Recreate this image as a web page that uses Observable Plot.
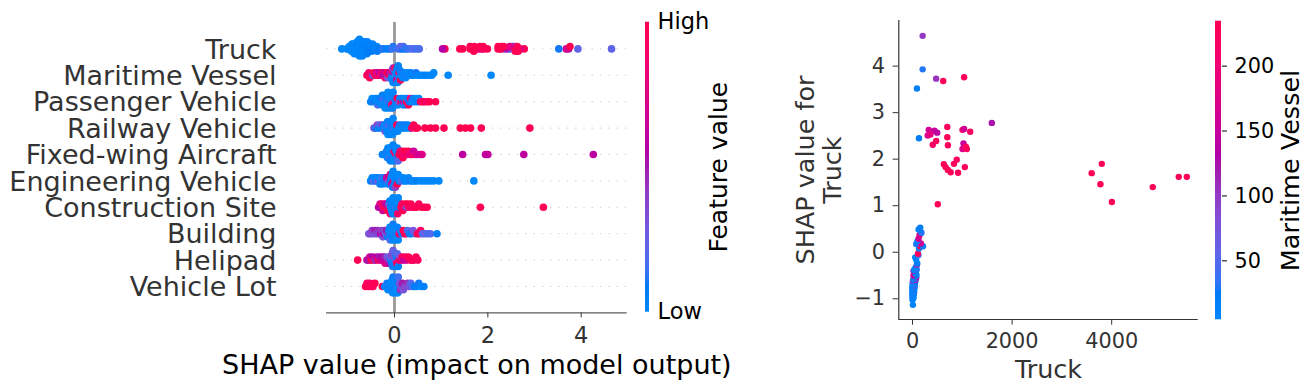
<!DOCTYPE html>
<html><head><meta charset="utf-8">
<script src="https://cdn.jsdelivr.net/npm/d3@7"></script>
<script src="https://cdn.jsdelivr.net/npm/@observablehq/plot@0.6"></script>
<style>
html,body{margin:0;padding:0;background:#fff;}
#chart{position:relative;width:1308px;height:392px;overflow:hidden;font-family:"DejaVu Sans";}
</style></head><body><div id="chart"></div>
<script>
// ---------------- DATA ----------------
const features = ["Truck","Maritime Vessel","Passenger Vehicle","Railway Vehicle","Fixed-wing Aircraft","Engineering Vehicle","Construction Site","Building","Helipad","Vehicle Lot"];
const xLabelLeft = "SHAP value (impact on model output)";
const colorbarLeftLabel = "Feature value";
const colorbarLeftTicks = ["Low","High"];
const xLabelRight = "Truck";
const yLabelRight = "SHAP value for\nTruck";
const colorbarRightLabel = "Maritime Vessel";

// dependence data: Truck value, SHAP value for Truck, Maritime Vessel value
const truckFeature = [204,204,475,617,1037,89,1593,130,326,441,496,305,360,407,475,699,699,711,1004,1037,1159,1024,1004,1091,1071,630,665,711,766,833,888,915,1051,3801,3598,3774,4004,4825,5346,5508,508,
 8,0,15,5,22,0,10,3,18,28,6,12,0,35,8,20,2,14,30,0,25,10,40,5,18,33,12,0,22,45,8,28,15,38,3,50,20,35,10,42,25,55,8,33,60,18,45,70,75,35,55,20,80,45,65,55,20,35,85,60,89,95,75,55,120,109,130,156,211,75,170,100,122,142,180,122,156];
const truckShap = [4.65,3.93,3.73,3.68,3.76,3.52,2.78,2.45,2.63,2.61,2.57,2.51,2.53,2.31,2.39,2.69,2.47,2.30,2.63,2.65,2.59,2.34,2.22,2.22,2.27,1.89,1.83,1.77,1.72,1.90,1.99,1.71,1.83,1.90,1.70,1.46,1.08,1.40,1.62,1.62,1.03,
 -1.13,-1.02,-0.99,-0.97,-0.96,-0.94,-0.92,-0.91,-0.90,-0.89,-0.88,-0.87,-0.86,-0.85,-0.84,-0.83,-0.82,-0.81,-0.80,-0.79,-0.78,-0.78,-0.77,-0.76,-0.76,-0.75,-0.75,-0.74,-0.73,-0.72,-0.72,-0.71,-0.70,-0.69,-0.68,-0.67,-0.66,-0.66,-0.65,-0.64,-0.63,-0.62,-0.61,-0.60,-0.59,-0.58,-0.57,-0.56,-0.54,-0.53,-0.51,-0.50,-0.49,-0.47,-0.46,-0.42,-0.40,-0.38,-0.37,-0.33,-0.27,-0.24,-0.16,-0.11,-0.06,-0.03,0.08,0.13,0.13,0.18,0.19,0.24,0.29,0.37,0.42,0.49,0.53];
const maritimeFeature = [100,30,105,225,225,15,125,20,165,150,140,175,190,215,220,225,230,225,225,160,220,150,175,228,225,230,225,228,232,225,220,228,225,230,230,230,228,230,228,232,232,
 10,8,12,20,6,15,9,30,5,14,11,25,7,18,10,40,6,22,9,12,35,8,16,60,11,7,28,9,14,20,6,95,12,30,10,18,8,45,13,22,7,15,110,9,130,12,35,8,120,18,14,160,10,140,11,25,115,12,30,14,110,20,9,16,40,225,22,225,18,28,160,15,165,170,30,12,20];

// summary rows 2..10: [SHAP value, normalised feature value]
const rowMaritime = [[-0.59,1],[-0.57,0.95],[-0.55,0.9],[-0.53,1],[-0.50,0.85],[-0.46,0.25],[-0.44,1],[-0.41,0.9],[-0.38,0.7],[-0.35,0.95],[-0.32,0.6],[-0.29,0.8],[-0.26,1],[-0.24,0.55],[-0.22,0.65],[-0.20,0.9],[-0.18,0.5],[-0.16,1],[-0.14,0.3],[-0.12,0.95],[-0.10,0.6],[-0.09,0.2],[-0.08,1],[-0.07,0.45],[-0.06,0.1],[-0.05,0.85],[-0.04,0.05],[-0.03,0.4],[-0.03,0],[-0.02,0.05],[-0.01,0.6],[-0.01,0],[0,0.15],[0.01,0.05],[0.01,0.9],[0.02,0],[0.03,0.3],[0.03,0],[0.04,0.05],[0.05,0],[0.05,0.7],[0.06,0.1],[0.07,0],[0.08,0.05],[0.09,0],[0.10,0.95],[0.11,0],[0.12,0.05],[0.13,1],[0.14,0],[0.16,0.1],[0.18,0],[0.20,0.05],[0.22,0],[0.24,0],[0.26,0.1],[0.29,0],[0.32,0],[0.35,0.05],[0.38,0],[0.42,0],[0.46,0.1],[0.50,0],[0.55,0],[0.61,0],[0.67,0.05],[0.74,0],[0.80,0],[0.84,0],[1.15,0],[2.07,0]];
const rowPassenger = [[-0.51,0.05],[-0.48,0],[-0.45,0.1],[-0.42,0],[-0.40,0.05],[-0.38,0],[-0.36,0.15],[-0.34,0],[-0.32,0.05],[-0.30,0],[-0.29,0.1],[-0.27,0],[-0.26,0.05],[-0.24,0],[-0.23,0.2],[-0.22,0],[-0.21,0.05],[-0.20,0],[-0.19,0],[-0.18,0.1],[-0.17,0],[-0.16,0.05],[-0.15,0],[-0.14,0],[-0.13,0.15],[-0.12,0],[-0.11,0.05],[-0.10,0],[-0.09,0],[-0.08,0.1],[-0.07,0],[-0.06,0.95],[-0.05,0],[-0.04,0.05],[-0.03,0],[-0.01,0.9],[0.0,0.1],[0.02,0],[0.04,0.05],[0.06,1],[0.08,0],[0.10,0.3],[0.12,0],[0.14,0.9],[0.16,0.05],[0.18,0],[0.20,0.6],[0.22,0],[0.24,0.1],[0.26,0.95],[0.28,0],[0.30,1],[0.32,0.05],[0.34,0.8],[0.37,0],[0.40,0.1],[0.43,0],[0.46,0],[0.49,0.05],[0.52,0],[0.56,1],[0.60,0.95],[0.65,1],[0.70,0.9],[0.75,1],[0.88,1]];
const rowRailway = [[-0.44,0.3],[-0.40,0.1],[-0.37,0.35],[-0.34,0.05],[-0.31,0.2],[-0.28,0],[-0.26,0.4],[-0.24,0.05],[-0.22,0],[-0.20,0.3],[-0.18,0],[-0.17,0.1],[-0.16,0],[-0.15,0.05],[-0.14,0],[-0.13,0],[-0.12,0.2],[-0.11,0],[-0.10,0.05],[-0.09,0],[-0.08,0],[-0.07,0.1],[-0.06,0],[-0.05,0.05],[-0.04,0],[-0.03,0],[-0.02,0.15],[-0.01,0],[0.01,0.05],[0.03,0],[0.05,1],[0.07,0.05],[0.09,0],[0.11,0.1],[0.14,0],[0.17,0.05],[0.20,0],[0.23,0.1],[0.26,0],[0.29,0.05],[0.33,0],[0.37,0.9],[0.41,1],[0.45,0.95],[0.49,1],[0.65,1],[0.77,1],[0.88,1],[1.06,1],[1.41,1],[1.52,1],[1.63,1],[1.86,1],[2.90,1]];
const rowFixedWing = [[-0.26,0],[-0.22,0.05],[-0.19,0],[-0.17,0.1],[-0.15,0],[-0.14,0.05],[-0.13,0],[-0.12,0],[-0.11,0.15],[-0.10,0],[-0.09,0.05],[-0.08,0],[-0.07,0],[-0.06,0.1],[-0.05,0],[-0.04,0],[-0.03,0.05],[-0.02,0],[-0.01,0.9],[0.0,0],[0.01,0.05],[0.02,0],[0.03,0.95],[0.04,0],[0.05,0.1],[0.06,0],[0.08,0.2],[0.10,1],[0.12,0.9],[0.14,1],[0.16,0.95],[0.18,1],[0.20,0.85],[0.23,1],[0.26,0.9],[0.30,1],[0.34,0.75],[0.38,0.95],[0.41,0.65],[0.45,0.8],[0.49,0.7],[0.56,0.65],[0.59,0.75],[1.46,0.6],[1.95,0.6],[2.0,0.62],[2.77,0.6],[4.26,0.6]];
const rowEngineering = [[-0.51,0.05],[-0.48,0],[-0.45,0.2],[-0.42,0],[-0.40,0.1],[-0.37,0],[-0.35,0.3],[-0.33,0],[-0.31,0.05],[-0.29,0],[-0.27,0.15],[-0.25,0],[-0.23,0.05],[-0.21,0],[-0.19,0.1],[-0.17,0.6],[-0.15,0],[-0.13,0.3],[-0.11,0.7],[-0.10,0],[-0.09,0.8],[-0.08,0.05],[-0.07,0],[-0.06,0.6],[-0.05,0],[-0.04,0.1],[-0.03,0],[-0.02,0.9],[-0.01,0],[0.0,0.05],[0.01,0],[0.02,0.4],[0.03,0],[0.04,0.05],[0.06,1],[0.08,0],[0.10,0.05],[0.13,0],[0.16,0.2],[0.19,0],[0.22,0.05],[0.26,0],[0.30,0],[0.34,0.1],[0.38,0],[0.43,0],[0.48,0.05],[0.56,0],[0.63,0],[0.70,0],[0.77,0],[0.84,0],[0.95,0],[1.70,0]];
const rowConstruction = [[-0.34,0.6],[-0.31,0.7],[-0.29,0.55],[-0.27,0.9],[-0.25,0.65],[-0.23,1],[-0.21,0.75],[-0.19,0.95],[-0.17,0.6],[-0.15,1],[-0.13,0.8],[-0.12,0.3],[-0.11,1],[-0.10,0.05],[-0.09,0.9],[-0.08,0],[-0.07,0.1],[-0.06,0],[-0.05,0.05],[-0.04,0],[-0.03,0],[-0.02,0.1],[-0.01,0],[0.0,0.05],[0.01,0],[0.02,0],[0.03,0.15],[0.04,0],[0.05,0.05],[0.06,0],[0.07,0.9],[0.08,0],[0.10,0.05],[0.12,0],[0.14,1],[0.16,0.95],[0.18,1],[0.20,0.9],[0.23,1],[0.26,0.35],[0.28,1],[0.31,0.95],[0.35,1],[0.39,0.9],[0.43,1],[0.47,1],[0.52,0.95],[0.58,1],[0.64,1],[0.70,1],[1.84,1],[3.19,1]];
const rowBuilding = [[-0.55,0.3],[-0.51,0.35],[-0.48,0.4],[-0.45,0.3],[-0.42,0.5],[-0.39,0.35],[-0.36,0.45],[-0.33,0.3],[-0.30,0.55],[-0.27,0.4],[-0.25,0.3],[-0.23,0.6],[-0.21,0.35],[-0.19,0.25],[-0.17,0.5],[-0.15,0.1],[-0.13,0.4],[-0.12,0],[-0.11,0.05],[-0.10,0],[-0.09,0.2],[-0.08,0],[-0.07,0],[-0.06,0.05],[-0.05,0],[-0.04,0],[-0.03,0.1],[-0.02,0],[-0.01,0],[0.0,0.05],[0.01,0],[0.02,0],[0.03,0.1],[0.04,0],[0.05,0],[0.06,0.05],[0.08,0],[0.10,0.9],[0.13,0.1],[0.16,0.05],[0.19,1],[0.22,0.95],[0.25,1],[0.28,0.2],[0.32,0.1],[0.36,0.05],[0.40,0.3],[0.45,0.25],[0.49,1],[0.53,1],[0.56,0.95],[0.60,0.2],[0.66,0.25],[0.72,0.15],[0.77,0.2],[0.91,0.05]];
const rowHelipad = [[-0.79,1],[-0.59,0.6],[-0.56,0.5],[-0.53,0.65],[-0.50,1],[-0.47,0.55],[-0.44,0.9],[-0.41,0.45],[-0.38,0.6],[-0.35,0.95],[-0.32,0.5],[-0.29,0.7],[-0.26,0.55],[-0.24,0.65],[-0.22,0.5],[-0.20,0.75],[-0.18,0.6],[-0.16,0.3],[-0.14,0.7],[-0.12,0.4],[-0.10,0.2],[-0.09,0.55],[-0.08,0.1],[-0.07,0.3],[-0.06,0.05],[-0.05,0.4],[-0.04,0.1],[-0.03,0.25],[-0.02,0],[-0.01,0.35],[0.0,0.1],[0.01,0.2],[0.02,0.05],[0.03,0.3],[0.04,0.1],[0.05,0.95],[0.06,0.2],[0.08,0.05],[0.10,0.9],[0.12,0.3],[0.14,0.85],[0.17,1],[0.20,0.6],[0.23,0.95],[0.26,0.7],[0.30,1],[0.34,0.9],[0.38,1],[0.42,0.95],[0.46,1],[0.50,0.95]];
const rowVehicleLot = [[-0.62,1],[-0.59,0.95],[-0.56,1],[-0.53,0.9],[-0.50,1],[-0.46,0.95],[-0.42,1],[-0.26,1],[-0.21,0.05],[-0.18,0],[-0.16,0.1],[-0.14,0],[-0.12,0.05],[-0.10,0],[-0.09,0],[-0.08,0.1],[-0.07,0],[-0.06,0.05],[-0.05,0],[-0.04,0],[-0.03,0.1],[-0.02,0],[-0.01,0],[0.0,0.05],[0.01,0],[0.02,0],[0.03,0.1],[0.04,0],[0.05,0],[0.06,0.05],[0.07,0],[0.08,0.15],[0.09,0],[0.11,0.3],[0.13,0.45],[0.15,0.35],[0.17,0.5],[0.19,0.3],[0.22,0.4],[0.25,0.35],[0.28,0.45],[0.31,0.3],[0.35,0.2],[0.39,0.15],[0.43,0.1],[0.47,0.05],[0.52,0.1],[0.57,0],[0.63,0.05]];

const truckColorDomain = [0, 900];     // feature-value clip for the Truck row colouring
const maritimeDomain = [4.6, 234.6];
const leftTicks = [0, 2, 4];
const rightXTicks = [0, 2000, 4000];
const rightYTicks = [-1, 0, 1, 2, 3, 4];
const maritimeTicks = [50, 100, 150, 200];

// ---------------- helpers ----------------
function shapRedBlue(t) {
  t = Math.max(0, Math.min(1, t));
  const L = t < 0.5 ? 54 - 28 * t : 40 + 28 * (t - 0.5);
  const C = 70 + 20 * t;
  const h0 = 4.6588, h1 = 0.35470565 + 2 * Math.PI;
  const h = (h0 + (h1 - h0) * t) * 180 / Math.PI;
  return d3.lch(L, C, h).formatHex();
}
function swarm(values, pos) {
  const bin = 0.055;
  const q = values.map(v => Math.round(v / bin));
  const idx = d3.range(values.length).sort((a, b) => q[a] - q[b] || a - b);
  const ys = new Array(values.length).fill(0);
  let layer = 0, last = null;
  for (const i of idx) {
    if (q[i] !== last) layer = 0;
    ys[i] = Math.ceil(layer / 2) * ((layer % 2) * 2 - 1);
    layer++; last = q[i];
  }
  const m = Math.max(1, d3.max(ys));
  return ys.map(y => pos + y * 0.9 * 0.4 / m);
}
const fmt = d => d < 0 ? "\u2212" + Math.abs(d) : String(d);
const FONT = "DejaVu Sans";

// ---------------- build rows ----------------
const truckT = truckFeature.map(v => (v - truckColorDomain[0]) / (truckColorDomain[1] - truckColorDomain[0]));
const rowsData = [
  truckShap.map((s, i) => [s, truckT[i]]),
  rowMaritime, rowPassenger, rowRailway, rowFixedWing, rowEngineering,
  rowConstruction, rowBuilding, rowHelipad, rowVehicleLot
];
const leftData = [];
for (let i = rowsData.length - 1; i >= 0; i--) {
  const pos = features.length - 1 - i;
  const vals = rowsData[i].map(d => d[0]);
  const ys = swarm(vals, pos);
  rowsData[i].forEach((d, j) => leftData.push({x: d[0], y: ys[j], t: d[1]}));
}
const rowPositions = features.map((_, i) => features.length - 1 - i);
const depData = truckFeature.map((v, i) => ({truck: v, shap: truckShap[i], maritime: maritimeFeature[i]}));

const root = document.getElementById("chart");
function place(svg, left) {
  svg.style.position = "absolute";
  svg.style.left = left + "px";
  svg.style.top = "0px";
  svg.style.background = "transparent";
  svg.style.overflow = "visible";
  svg.style.maxWidth = "none";
  root.appendChild(svg);
}

// ---------------- left summary plot ----------------
const leftPlot = Plot.plot({
  width: 640, height: 392,
  marginLeft: 326, marginRight: 13.3, marginTop: 22, marginBottom: 79.6,
  x: {domain: [-1.457, 4.986]},
  y: {domain: [-1, 10]},
  color: {type: "linear", domain: [0, 1], interpolate: shapRedBlue, clamp: true},
  style: {fontFamily: FONT},
  marks: [
    Plot.ruleY(rowPositions, {stroke: "#cccccc", strokeWidth: 1, strokeDasharray: "1.4,6.9"}),
    Plot.ruleX([0], {stroke: "#999999", strokeWidth: 2.8}),
    Plot.dot(leftData, {x: "x", y: "y", fill: "t", r: 3.8}),
    Plot.ruleY([-1], {stroke: "#333333", strokeWidth: 1}),
    Plot.axisX({ticks: leftTicks, tickFormat: fmt, tickSize: 5, tickPadding: 9, fontSize: 22.5, color: "#333333", label: null}),
    Plot.axisY({ticks: rowPositions, tickFormat: p => features[features.length - 1 - p], tickSize: 0, tickPadding: 50, fontSize: 27, color: "#333333", label: null, dy: 1}),
    Plot.text([xLabelLeft], {text: d => d, frameAnchor: "bottom", textAnchor: "middle", lineAnchor: "middle", dy: 52, fontSize: 27, fill: "#000"})
  ]
});
place(leftPlot, 0);

// ---------------- left colour bar ----------------
const steps = d3.range(200).map(i => i / 200);
const cbLeft = Plot.plot({
  width: 110, height: 392,
  marginLeft: 15, marginRight: 91, marginTop: 21.7, marginBottom: 80.3,
  y: {domain: [0, 1]},
  color: {type: "linear", domain: [0, 1], interpolate: shapRedBlue, clamp: true},
  style: {fontFamily: FONT},
  marks: [
    Plot.rect(steps, {y1: d => d, y2: d => Math.min(1, d + 0.008), fill: d => d + 0.0025}),
    Plot.axisY({anchor: "right", ticks: [0, 1], tickFormat: v => colorbarLeftTicks[v], tickSize: 0, tickPadding: 8, fontSize: 22.5, color: "#000", label: null}),
    Plot.text([colorbarLeftLabel], {text: d => d, frameAnchor: "right", textAnchor: "middle", lineAnchor: "middle", dx: 69, rotate: -90, fontSize: 25, fill: "#000"})
  ]
});
place(cbLeft, 630);

// ---------------- right dependence plot ----------------
const xDomR = [-275, 5737], yDomR = [-1.445, 4.98];
const rightPlot = Plot.plot({
  width: 450, height: 392,
  marginLeft: 138.3, marginRight: 12.3, marginTop: 20, marginBottom: 73,
  x: {domain: xDomR},
  y: {domain: yDomR},
  color: {type: "linear", domain: maritimeDomain, interpolate: shapRedBlue, clamp: true},
  style: {fontFamily: FONT},
  marks: [
    Plot.dot(depData, {x: "truck", y: "shap", fill: "maritime", r: 3.2}),
    Plot.ruleX([xDomR[0]], {stroke: "#333333", strokeWidth: 1.2}),
    Plot.ruleY([yDomR[0]], {stroke: "#333333", strokeWidth: 1.2}),
    Plot.axisX({ticks: rightXTicks, tickFormat: fmt, tickSize: 5.7, tickPadding: 8, fontSize: 20.8, color: "#333333", label: null}),
    Plot.axisY({ticks: rightYTicks, tickFormat: fmt, tickSize: 5.7, tickPadding: 8, fontSize: 20.8, color: "#333333", label: null}),
    Plot.text([xLabelRight], {text: d => d, frameAnchor: "bottom", textAnchor: "middle", lineAnchor: "middle", dy: 50.2, fontSize: 25.5, fill: "#333333"}),
    Plot.text([yLabelRight], {text: d => d, frameAnchor: "left", textAnchor: "middle", lineAnchor: "middle", dx: -80, rotate: -90, lineHeight: 1.06, fontSize: 25.5, fill: "#333333"})
  ]
});
place(rightPlot, 760);

// ---------------- right colour bar ----------------
const mSteps = d3.range(200).map(i => maritimeDomain[0] + (maritimeDomain[1] - maritimeDomain[0]) * i / 200);
const mStep = (maritimeDomain[1] - maritimeDomain[0]) / 200;
const cbRight = Plot.plot({
  width: 108, height: 392,
  marginLeft: 15, marginRight: 87, marginTop: 20.7, marginBottom: 72.7,
  y: {domain: maritimeDomain},
  color: {type: "linear", domain: maritimeDomain, interpolate: shapRedBlue, clamp: true},
  style: {fontFamily: FONT},
  marks: [
    Plot.rect(mSteps, {y1: d => d, y2: d => Math.min(maritimeDomain[1], d + mStep * 1.6), fill: d => d + mStep / 2}),
    Plot.axisY({anchor: "right", ticks: maritimeTicks, tickSize: 5, tickPadding: 8, fontSize: 20.8, color: "#000", label: null}),
    Plot.text([colorbarRightLabel], {text: d => d, frameAnchor: "right", textAnchor: "middle", lineAnchor: "middle", dx: 69, rotate: -90, fontSize: 25.5, fill: "#000"})
  ]
});
place(cbRight, 1200);
</script></body></html>
